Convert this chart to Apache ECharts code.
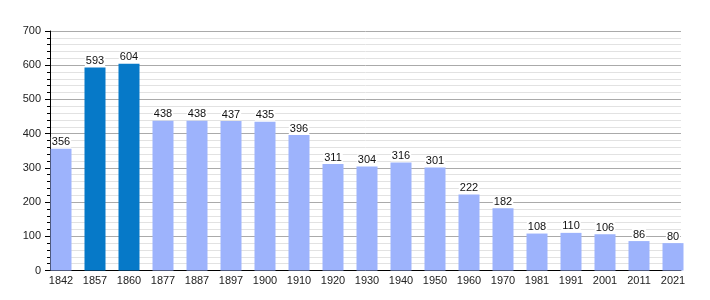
<!DOCTYPE html>
<html>
<head>
<meta charset="utf-8">
<script src="https://cdn.jsdelivr.net/npm/echarts@6/dist/echarts.min.js"></script>
<style>
    html, body { margin: 0; padding: 0; background: #fff; }
    #chart { width: 710px; height: 300px; }
</style>
</head>
<body>
<div id="chart"></div>
<script>
    const years = ['1842', '1857', '1860', '1877', '1887', '1897', '1900', '1910', '1920', '1930',
        '1940', '1950', '1960', '1970', '1981', '1991', '2001', '2011', '2021']
    const population = [356, 593, 604, 438, 438, 437, 435, 396, 311, 304,
        316, 301, 222, 182, 108, 110, 106, 86, 80]
    const highlighted = ['1857', '1860']
    const yTicks = [0, 700, 100]

    const lightColor = '#9db3fc'
    const darkColor = '#0679c8'
    const font = 'Liberation Sans, Arial, sans-serif'

    let barData = population.map((v, i) => ({
        value: v,
        itemStyle: { color: highlighted.includes(years[i]) ? darkColor : lightColor }
    }))

    let option = {
        animation: false,
        backgroundColor: '#fff',
        grid: [
            { left: 50, top: 31, width: 631, height: 239.5 },
            { left: 44, top: 31, width: 646, height: 239.5 }
        ],
        xAxis: [{
            gridIndex: 0,
            type: 'value',
            min: 0,
            max: 1,
            axisLine: { show: true, lineStyle: { color: '#000', width: 1 } },
            axisTick: { show: false },
            axisLabel: { show: false },
            splitLine: { show: false }
        }, {
            gridIndex: 1,
            type: 'category',
            data: years,
            axisLine: { show: false },
            axisTick: { show: false },
            axisLabel: { color: '#222', fontSize: 11, fontFamily: font, margin: 5 }
        }],
        yAxis: [{
            gridIndex: 0,
            type: 'value',
            min: yTicks[0],
            max: yTicks[1],
            interval: yTicks[2],
            axisLine: { show: true, lineStyle: { color: '#000', width: 1 } },
            axisTick: { show: true, length: 5, lineStyle: { color: '#000' } },
            minorTick: { show: true, splitNumber: 5, length: 3, lineStyle: { color: '#000' } },
            axisLabel: { color: '#222', fontSize: 11, fontFamily: font, margin: 9 },
            splitLine: { show: true, lineStyle: { color: '#aaa', width: 1 } },
            minorSplitLine: { show: true, lineStyle: { color: '#e2e2e2', width: 1 } }
        }, {
            gridIndex: 1,
            type: 'value',
            min: yTicks[0],
            max: yTicks[1],
            show: false
        }],
        series: [{
            type: 'bar',
            xAxisIndex: 1,
            yAxisIndex: 1,
            data: barData,
            barWidth: 21,
            label: {
                show: true,
                position: 'top',
                distance: 1,
                color: '#111',
                fontSize: 11,
                fontFamily: font,
                backgroundColor: '#fff',
                padding: [0, 1]
            }
        }]
    }

    let chart = echarts.init(document.getElementById('chart'))
    chart.setOption(option)
</script>
</body>
</html>
